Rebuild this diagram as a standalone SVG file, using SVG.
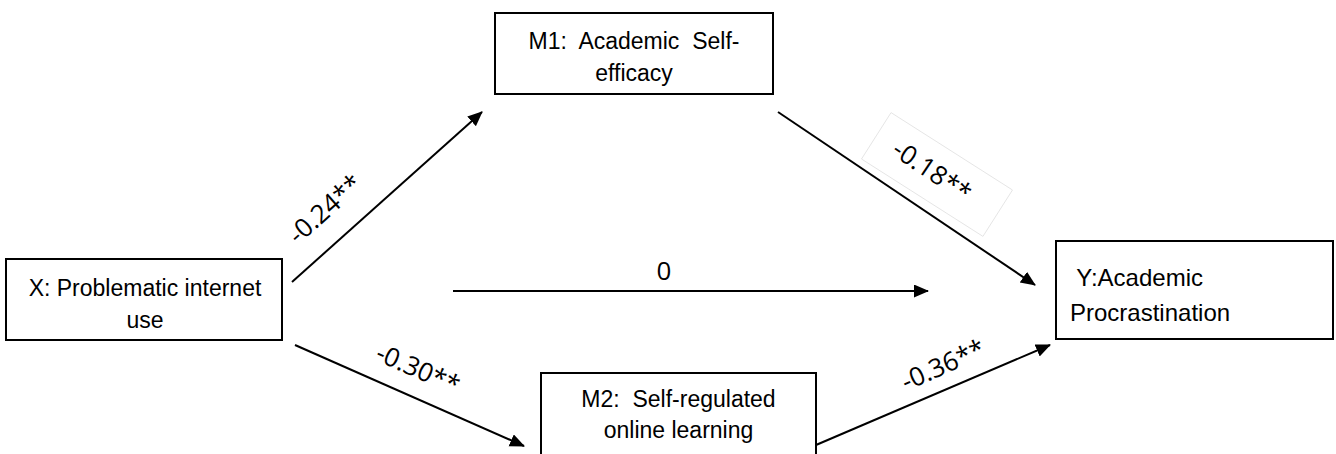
<svg xmlns="http://www.w3.org/2000/svg" width="1336" height="454" viewBox="0 0 1336 454">
  <style>
    .box { fill: #ffffff; stroke: #000000; stroke-width: 2; }
    .nt { font-family: "Liberation Sans", Arial, sans-serif; font-size: 23px; fill: #000000; white-space: pre; }
    .lbl { font-family: "Open Sans", "DejaVu Sans", sans-serif; font-size: 26px; fill: #000000; text-anchor: middle; }
    .edge { stroke: #000000; stroke-width: 2; fill: none; marker-end: url(#arrow); }
  </style>
  <defs>
    <marker id="arrow" markerUnits="userSpaceOnUse" markerWidth="16" markerHeight="14" refX="14" refY="6.5" orient="auto">
      <path d="M0,0 L15,6.5 L0,13 z" fill="#000000"/>
    </marker>
  </defs>
  <rect width="1336" height="454" fill="#ffffff"/>

  <g id="connectors">
    <line class="edge" x1="292" y1="282" x2="482" y2="112"/>
    <line class="edge" x1="778" y1="112" x2="1035" y2="285"/>
    <line class="edge" x1="453" y1="291" x2="928" y2="291"/>
    <line class="edge" x1="295" y1="345" x2="524" y2="446"/>
    <line class="edge" x1="816" y1="445" x2="1050" y2="345"/>
    <rect x="-72" y="-27.5" width="144" height="55" transform="translate(937,174.5) rotate(32.5)" fill="none" stroke="#e2e2e2" stroke-width="0.8"/>
    <text class="lbl" transform="translate(325,209) rotate(-41.8)" x="0" y="9">-0.24**</text>
    <text class="lbl" transform="translate(932,171) rotate(33.9)" x="0" y="9">-0.18**</text>
    <text class="lbl" x="664" y="280">0</text>
    <text class="lbl" transform="translate(418,369) rotate(23.8)" x="0" y="9">-0.30**</text>
    <text class="lbl" transform="translate(943,365) rotate(-24)" x="0" y="9">-0.36**</text>
  </g>

  <g id="node-x">
    <rect class="box" x="6" y="259" width="276" height="81"/>
    <text class="nt" x="145" y="296" text-anchor="middle">X: Problematic internet</text>
    <text class="nt" x="145" y="328" text-anchor="middle">use</text>
  </g>

  <g id="node-m1">
    <rect class="box" x="495" y="13" width="278" height="81"/>
    <text class="nt" x="634" y="49" text-anchor="middle">M1:  Academic  Self-</text>
    <text class="nt" x="634" y="81" text-anchor="middle">efficacy</text>
  </g>

  <g id="node-m2">
    <rect class="box" x="541" y="373" width="275" height="92"/>
    <text class="nt" x="678.5" y="407" text-anchor="middle">M2:  Self-regulated</text>
    <text class="nt" x="678.5" y="438" text-anchor="middle">online learning</text>
  </g>

  <g id="node-y">
    <rect class="box" x="1056" y="241" width="277" height="98"/>
    <text class="nt" x="1070" y="285.5" style="font-size:24px"> Y:Academic</text>
    <text class="nt" x="1070" y="320.5" style="font-size:24px">Procrastination</text>
  </g>
</svg>
